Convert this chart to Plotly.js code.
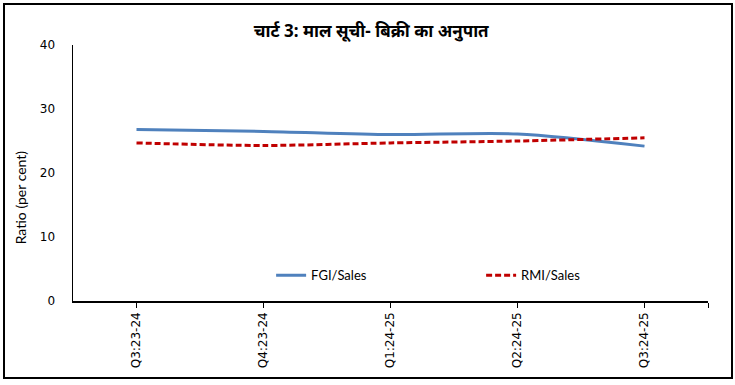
<!DOCTYPE html>
<html><head><meta charset="utf-8">
<script src="https://cdn.plot.ly/plotly-3.0.1.min.js"></script>
<style>
html,body{margin:0;padding:0;background:#fff;}
#wrap{position:relative;width:735px;height:385px;}
#chart{width:735px;height:385px;}
#frame{position:absolute;left:3px;top:3px;width:726px;height:372px;border:2px solid #000;pointer-events:none;}
</style></head>
<body><div id="wrap"><div id="chart"></div><div id="frame"></div></div>
<script>
const categories = ["Q3:23-24","Q4:23-24","Q1:24-25","Q2:24-25","Q3:24-25"];
const fgiSales = [26.8, 26.5, 26.0, 26.1, 24.2];
const rmiSales = [24.7, 24.3, 24.7, 25.0, 25.5];
const yTicks = [0, 10, 20, 30, 40];

const xIdx = categories.map((c, i) => i);

const traces = [
  {x: xIdx, y: fgiSales, name: "FGI/Sales", type: "scatter", mode: "lines",
   line: {color: "#4F81BD", width: 3, shape: "spline", smoothing: 0.8}},
  {x: xIdx, y: rmiSales, name: "RMI/Sales", type: "scatter", mode: "lines",
   line: {color: "#C00000", width: 3, dash: "6px,3px", shape: "spline", smoothing: 0.8}}
];

const layout = {
  width: 735, height: 385,
  margin: {l: 73, r: 27, t: 45, b: 84},
  paper_bgcolor: "#fff", plot_bgcolor: "#fff",
  showlegend: true,
  title: {text: "चार्ट 3: माल सूची- बिक्री का अनुपात", x: 0.505, xanchor: "center", y: 0.92, yanchor: "middle",
          font: {family: "Noto Sans, 'Noto Sans Devanagari', sans-serif", size: 17, color: "#000", weight: "bold"}},
  xaxis: {
    range: [-0.5, 4.5], tickvals: xIdx.concat([4.5]), ticktext: categories.concat([""]),
    tickangle: -90, ticks: "outside", ticklen: 5, tickcolor: "#000",
    showline: true, linecolor: "#000", linewidth: 1.5, showgrid: false, zeroline: false,
    tickfont: {family: "DejaVu Sans", size: 12, color: "#000"}
  },
  yaxis: {
    range: [0, 40], tickvals: yTicks, ticks: "", showline: true, linecolor: "#000", linewidth: 1.5,
    showgrid: false, zeroline: false, ticklabelstandoff: 14,
    tickfont: {family: "DejaVu Sans", size: 12, color: "#000"}
  },
  legend: {orientation: "h", x: 0.312, xanchor: "left", y: 0.1, yanchor: "middle",
           font: {family: "Lato", size: 13, color: "#000"}, entrywidth: 165, entrywidthmode: "pixels",
           bgcolor: "rgba(0,0,0,0)"},
  annotations: [{text: "Ratio (per cent)", textangle: -90, xref: "paper", yref: "paper",
                 x: -0.083, y: 0.5 - 24/256, xanchor: "center", yanchor: "middle", showarrow: false,
                 font: {family: "Lato", size: 14, color: "#000"}}]
};

Plotly.newPlot("chart", traces, layout, {displayModeBar: false, staticPlot: true});
</script></body></html>
